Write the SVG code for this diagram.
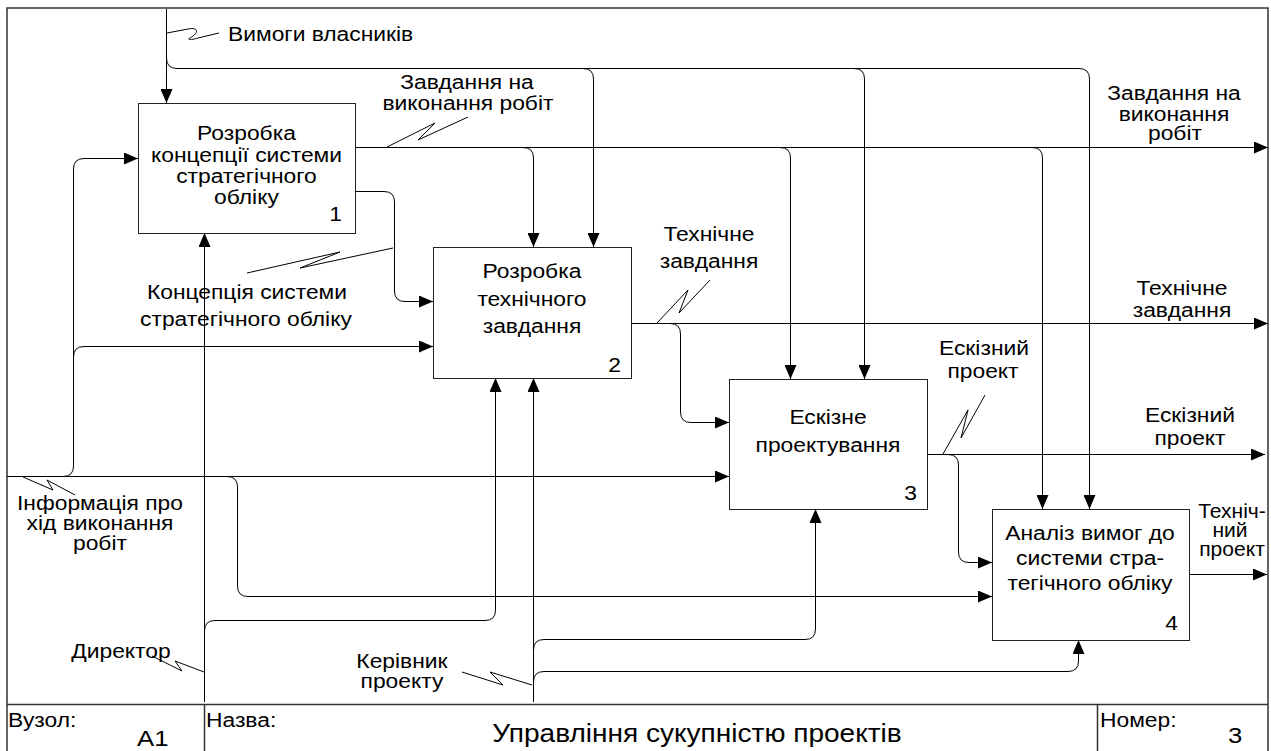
<svg xmlns="http://www.w3.org/2000/svg" width="1271" height="751" viewBox="0 0 1271 751">
  <style>
    .frame { fill: none; stroke: #333; stroke-width: 1.5; }
    .box { fill: #fff; stroke: #222; stroke-width: 1; }
    .arr { fill: none; stroke: #000; stroke-width: 1; marker-end: url(#head); }
    .sq { fill: none; stroke: #000; stroke-width: 1; stroke-linejoin: round; }
    text { font-family: "Liberation Sans", Arial, sans-serif; font-size: 19.5px; fill: #000;
           transform-box: fill-box; transform-origin: 0 50%; transform: scaleX(1.17); }
    .c { text-anchor: middle; transform-origin: 50% 50%; }
    .e { text-anchor: end; transform-origin: 100% 50%; }
    .big { font-size: 23px; transform: scaleX(1.12); }
    .title { font-size: 25.5px; transform: scaleX(1.1); }
    .narrow { transform: scaleX(1.08); }
  </style>
  <defs>
    <marker id="head" markerWidth="14" markerHeight="12" refX="14" refY="6" orient="auto" markerUnits="userSpaceOnUse">
      <path d="M0,0 L14,6 L0,12 z" fill="#000"/>
    </marker>
  </defs>

  <rect width="1271" height="751" fill="#fff"/>

  <!-- page frame and title block -->
  <g id="frame">
    <path class="frame" d="M7,760 L7,8 L1268,8 L1268,760"/>
    <path class="frame" d="M7,704.5 L1268,704.5 M204.5,704.5 L204.5,760 M1097.5,704.5 L1097.5,760"/>
    <text x="8" y="727">Вузол:</text>
    <text x="137" y="746" class="big">A1</text>
    <text x="206" y="727">Назва:</text>
    <text x="697" y="742" class="c title">Управління сукупністю проектів</text>
    <text x="1100" y="727">Номер:</text>
    <text x="1228" y="743" class="big">3</text>
  </g>

  <!-- arrows between activities -->
  <g id="connectors">
    <!-- control: owners' requirements -->
    <path class="arr" d="M166.5,9 L166.5,103"/>
    <path class="arr" d="M166.5,58 Q166.5,68.5 177,68.5 L1079,68.5 Q1089.5,68.5 1089.5,79 L1089.5,509"/>
    <path class="arr" d="M583,68.5 Q593.5,68.5 593.5,79 L593.5,247"/>
    <path class="arr" d="M854,68.5 Q864.5,68.5 864.5,79 L864.5,379"/>
    <!-- output 1: work assignment -->
    <path class="arr" d="M355,147.5 L1268,147.5"/>
    <path class="arr" d="M523,147.5 Q533.5,147.5 533.5,158 L533.5,247"/>
    <path class="arr" d="M780,147.5 Q790.5,147.5 790.5,158 L790.5,379"/>
    <path class="arr" d="M1032,147.5 Q1042.5,147.5 1042.5,158 L1042.5,509"/>
    <!-- output 1: concept -->
    <path class="arr" d="M355,191.5 L384,191.5 Q394.5,191.5 394.5,202 L394.5,291 Q394.5,301.5 405,301.5 L433,301.5"/>
    <!-- input: progress information -->
    <path class="arr" d="M7,476.5 L729,476.5"/>
    <path class="arr" d="M63,476.5 Q73.5,476.5 73.5,466 L73.5,169 Q73.5,158.5 84,158.5 L138,158.5"/>
    <path class="arr" d="M73.5,357 Q73.5,346.5 84,346.5 L433,346.5"/>
    <path class="arr" d="M227,476.5 Q237.5,476.5 237.5,487 L237.5,586 Q237.5,596.5 248,596.5 L992,596.5"/>
    <!-- output 2: technical assignment -->
    <path class="arr" d="M631,323.5 L1268,323.5"/>
    <path class="arr" d="M670,323.5 Q680.5,323.5 680.5,334 L680.5,412 Q680.5,422.5 691,422.5 L729,422.5"/>
    <!-- output 3: draft design -->
    <path class="arr" d="M927,454.5 L1265,454.5"/>
    <path class="arr" d="M948,454.5 Q958.5,454.5 958.5,465 L958.5,552 Q958.5,562.5 969,562.5 L992,562.5"/>
    <!-- output 4: technical design -->
    <path class="arr" d="M1189,574.5 L1267,574.5"/>
    <!-- mechanism: director -->
    <path class="arr" d="M204.5,702 L204.5,233"/>
    <path class="arr" d="M204.5,631 Q204.5,620.5 215,620.5 L485,620.5 Q495.5,620.5 495.5,610 L495.5,378"/>
    <!-- mechanism: project manager -->
    <path class="arr" d="M533.5,702 L533.5,378"/>
    <path class="arr" d="M533.5,650 Q533.5,639.5 544,639.5 L805,639.5 Q815.5,639.5 815.5,629 L815.5,509"/>
    <path class="arr" d="M533.5,682 Q533.5,671.5 544,671.5 L1068,671.5 Q1078.5,671.5 1078.5,661 L1078.5,640"/>

    <!-- label leaders -->
    <path class="sq" d="M167,33 L188,29 C199,27 199,33 190,38 C186,40 192,40 198,38 L219,33"/>
    <path class="sq" d="M387,147 L435,123 L418,140 L468,117"/>
    <path class="sq" d="M393,248 L300,268 L340,252 L247,273"/>
    <path class="sq" d="M657,323 L688,290 L679,313 L710,280"/>
    <path class="sq" d="M943,454 L968,410 L961,438 L985,395"/>
    <path class="sq" d="M23,477 L53,490 L47,480 L75,495"/>
    <path class="sq" d="M152,656 L182,671 L175,661 L204,672"/>
    <path class="sq" d="M462,672 L503,685 L490,672 L532,685"/>

    <!-- arrow labels -->
    <text x="228" y="41">Вимоги власників</text>
    <text x="467" y="89" class="c">Завдання на</text>
    <text x="468" y="110" class="c">виконання робіт</text>
    <text x="1174" y="100" class="c">Завдання на</text>
    <text x="1174" y="121" class="c">виконання</text>
    <text x="1175" y="140" class="c">робіт</text>
    <text x="247" y="299" class="c">Концепція системи</text>
    <text x="246" y="326" class="c">стратегічного обліку</text>
    <text x="709" y="241" class="c">Технічне</text>
    <text x="709" y="268" class="c">завдання</text>
    <text x="1182" y="295" class="c">Технічне</text>
    <text x="1182" y="317" class="c">завдання</text>
    <text x="984" y="355" class="c">Ескізний</text>
    <text x="983" y="378" class="c">проект</text>
    <text x="1190" y="422" class="c">Ескізний</text>
    <text x="1190" y="445" class="c">проект</text>
    <text x="1232" y="518" class="c narrow">Техніч-</text>
    <text x="1230" y="537" class="c narrow">ний</text>
    <text x="1232" y="556" class="c narrow">проект</text>
    <text x="100" y="510" class="c">Інформація про</text>
    <text x="100" y="530" class="c">хід виконання</text>
    <text x="100" y="550" class="c">робіт</text>
    <text x="121" y="658" class="c">Директор</text>
    <text x="402" y="668" class="c">Керівник</text>
    <text x="402" y="688" class="c">проекту</text>
  </g>

  <g id="node1">
    <rect class="box" x="138.5" y="103.5" width="217" height="130"/>
    <text x="246.5" y="140" class="c">Розробка</text>
    <text x="246.5" y="162" class="c">концепції системи</text>
    <text x="246.5" y="183" class="c">стратегічного</text>
    <text x="246.5" y="204" class="c">обліку</text>
    <text x="342" y="221" class="e">1</text>
  </g>

  <g id="node2">
    <rect class="box" x="433.5" y="247.5" width="198" height="131"/>
    <text x="532" y="278" class="c">Розробка</text>
    <text x="532" y="306" class="c">технічного</text>
    <text x="532" y="333" class="c">завдання</text>
    <text x="621" y="372" class="e">2</text>
  </g>

  <g id="node3">
    <rect class="box" x="729.5" y="379.5" width="198" height="130"/>
    <text x="828" y="424" class="c">Ескізне</text>
    <text x="828" y="452" class="c">проектування</text>
    <text x="917" y="500" class="e">3</text>
  </g>

  <g id="node4">
    <rect class="box" x="992.5" y="509.5" width="197" height="131"/>
    <text x="1090" y="540" class="c">Аналіз вимог до</text>
    <text x="1090" y="565" class="c">системи стра-</text>
    <text x="1090" y="590" class="c">тегічного обліку</text>
    <text x="1178" y="630" class="e">4</text>
  </g>
</svg>
